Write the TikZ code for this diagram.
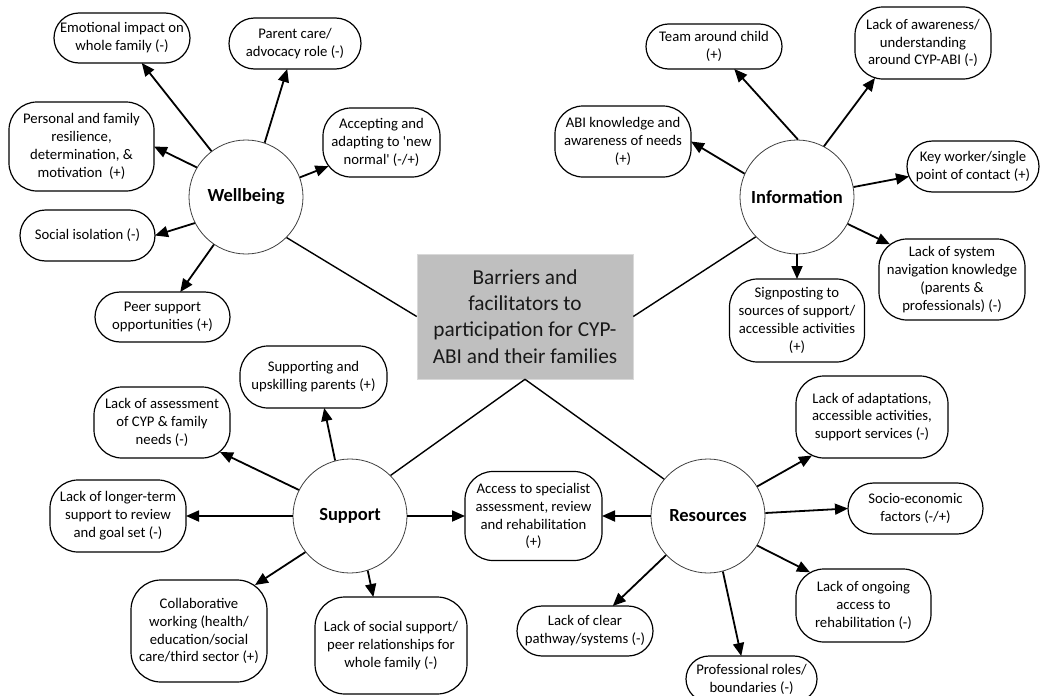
\documentclass[tikz,border=0pt]{standalone}
\usepackage{fontspec}
\setmainfont{Carlito}
\usetikzlibrary{arrows.meta}
\newcommand\leaffont{\fontsize{14.7}{17.9}\selectfont}
\newcommand\themefont{\fontsize{18.5}{22}\selectfont\bfseries}
\newcommand\hubfont{\fontsize{21.3}{26.3}\selectfont}
\tikzset{
  box/.style 2 args={minimum width=#1, minimum height=#2, inner sep=0pt,
    outer sep=0pt, align=center, font=\leaffont},
  boxline/.style={draw=black, line width=1.2pt},
  theme/.style={circle, draw=black!75, line width=0.8pt, fill=white,
    minimum size=114, inner sep=0pt, font=\themefont},
  hub/.style={draw=black!15, line width=0.6pt, fill=black!25, minimum width=216,
    minimum height=125, inner sep=0pt, align=center, font=\hubfont, text=black!90},
  arr/.style={line width=1.8pt, -{Triangle[length=13pt,width=11pt]}},
  link/.style={line width=1.4pt},
}
% outline of a factor box: rectangle with quarter-circle corners of radius #2 (pt)
\newcommand\boxoutline[2]{%
  \draw[boxline]
    ([xshift=#2pt]#1.north west) -- ([xshift=-#2pt]#1.north east)
    .. controls ([xshift={-0.448*#2pt}]#1.north east) and ([yshift={-0.448*#2pt}]#1.north east) .. ([yshift=-#2pt]#1.north east)
    -- ([yshift=#2pt]#1.south east)
    .. controls ([yshift={0.448*#2pt}]#1.south east) and ([xshift={-0.448*#2pt}]#1.south east) .. ([xshift=-#2pt]#1.south east)
    -- ([xshift=#2pt]#1.south west)
    .. controls ([xshift={0.448*#2pt}]#1.south west) and ([yshift={0.448*#2pt}]#1.south west) .. ([yshift=#2pt]#1.south west)
    -- ([yshift=-#2pt]#1.north west)
    .. controls ([yshift={-0.448*#2pt}]#1.north west) and ([xshift={0.448*#2pt}]#1.north west) .. cycle;}
\begin{document}
\begin{tikzpicture}[x=1pt, y=-1pt]
\fill[white] (0,0) rectangle (1042,696);
\useasboundingbox (0,0) rectangle (1042,696);

% central topic
\node[hub] (hub) at (525,316.5) {Barriers and\\facilitators to\\participation for CYP-\\ABI and their families};

% four themes
\node[theme] (wb)  at (246,197) {Wellbeing};
\node[theme] (inf) at (797,197) {Information};
\node[theme] (sp)  at (350,516) {Support};
\node[theme] (res) at (708,516) {Resources};

\draw[link] (wb.-45)  -- (hub.west);
\draw[link] (inf.224) -- (hub.east);
\draw[link] (sp.45)   -- (hub.south);
\draw[link] (res.140) -- (hub.south);

% wellbeing factors
\node[box={136}{50}] (emo)  at (122,38)     {Emotional impact on\\whole family (-)};
\node[box={132}{51}] (par)  at (295,43.5)   {Parent care/\\advocacy role (-)};
\node[box={145}{89}] (pers) at (81.5,146.5) {Personal and family\\resilience,\\determination, \&\\motivation~ (+)};
\node[box={117}{69}] (accp) at (381.5,142.5) {Accepting and\\adapting to \textquotesingle new\\normal\textquotesingle{} (-/+)};
\node[box={135}{51}] (isol) at (87.5,235.5) {Social isolation (-)};
\node[box={135}{50}] (peer) at (162.5,317)  {Peer support\\opportunities (+)};
\boxoutline{emo}{25}
\boxoutline{par}{25.5}
\boxoutline{pers}{28}
\boxoutline{accp}{28}
\boxoutline{isol}{25.5}
\boxoutline{peer}{25}

\draw[arr] (wb.127) -- (emo);
\draw[arr] (wb.71)  -- (par);
\draw[arr] (wb.149) -- (pers.east);
\draw[arr] (wb.20)  -- ([shift={(5.4,-10.8)}]accp.south west);
\draw[arr] (wb.207) -- (isol.east);
\draw[arr] (wb.236) -- (peer);

% information factors
\node[box={136}{45}] (team) at (714,46.5)  {Team around child\\(+)};
\node[box={136}{72}] (lawr) at (923,43)    {Lack of awareness/\\understanding\\around CYP-ABI (-)};
\node[box={136}{71}] (abik) at (623,141.5) {ABI knowledge and\\awareness of needs\\(+)};
\node[box={132}{51}] (keyw) at (973,166.5) {Key worker/single\\point of contact (+)};
\node[box={146}{81}] (nav)  at (952,279.5) {Lack of system\\navigation knowledge\\(parents \&\\professionals) (-)};
\node[box={135}{83}] (sign) at (797,320.5) {Signposting to\\sources of support/\\accessible activities\\(+)};
\boxoutline{team}{22.5}
\boxoutline{lawr}{28}
\boxoutline{abik}{28}
\boxoutline{keyw}{25.5}
\boxoutline{nav}{28}
\boxoutline{sign}{28}

\draw[arr] (inf.89)  -- (team);
\draw[arr] (inf.62)  -- ([shift={(20,-1)}]lawr.south west);
\draw[arr] (inf.156) -- (abik.east);
\draw[arr] (inf.10)  -- ([shift={(2,10)}]keyw.west);
\draw[arr] (inf.-28) -- ([shift={(11,5.3)}]nav.north west);
\draw[arr] (inf.south) -- (sign.north);

% support factors
\node[box={147}{62}]  (upsk)   at (313.5,377) {Supporting and\\upskilling parents (+)};
\node[box={136}{71}]  (assm)   at (162,422.5) {Lack of assessment\\of CYP \& family\\needs (-)};
\node[box={136}{72}]  (longt)  at (118,516)   {Lack of longer-term\\support to review\\and goal set (-)};
\node[box={136}{102}] (collab) at (199,631)   {Collaborative\\working (health/\\education/social\\care/third sector (+)};
\node[box={152}{97}]  (socs)   at (391,645.5) {Lack of social support/\\peer relationships for\\whole family (-)};
\node[box={137}{89}]  (access) at (533.5,516) {Access to specialist\\assessment, review\\and rehabilitation\\(+)};
\boxoutline{upsk}{28}
\boxoutline{assm}{28}
\boxoutline{longt}{28}
\boxoutline{collab}{30}
\boxoutline{socs}{30}
\boxoutline{access}{28}

\draw[arr] (sp.105)  -- (upsk.-71);
\draw[arr] (sp.153)  -- ([shift={(-10,-6)}]assm.south east);
\draw[arr] (sp.west) -- (longt.east);
\draw[arr] (sp.219)  -- ([shift={(-12,5)}]collab.north east);
\draw[arr] (sp.-72.5) -- (socs.110);
\draw[arr] (sp.east) -- (access.west);

% resource factors
\node[box={152}{82}] (adapt) at (872,417)     {Lack of adaptations,\\accessible activities,\\support services (-)};
\node[box={135}{51}] (socio) at (915.5,508.5) {Socio-economic\\factors (-/+)};
\node[box={135}{73}] (ongo)  at (863.5,605.5) {Lack of ongoing\\access to\\rehabilitation (-)};
\node[box={131}{46}] (prof)  at (751.5,679)   {Professional roles/\\boundaries (-)};
\node[box={136}{50}] (clear) at (585,631)     {Lack of clear\\pathway/systems (-)};
\boxoutline{adapt}{28}
\boxoutline{socio}{25.5}
\boxoutline{ongo}{28}
\boxoutline{prof}{23}
\boxoutline{clear}{25}

\draw[arr] (res.west) -- (access.east);
\draw[arr] (res.31.5) -- ([shift={(16,-2.5)}]adapt.south west);
\draw[arr] (res.3)    -- (socio.west);
\draw[arr] (res.-31)  -- ([shift={(14,3.3)}]ongo.north west);
\draw[arr] (res.-75)  -- (prof.114);
\draw[arr] (res.223)  -- (clear.42);
\end{tikzpicture}
\end{document}
